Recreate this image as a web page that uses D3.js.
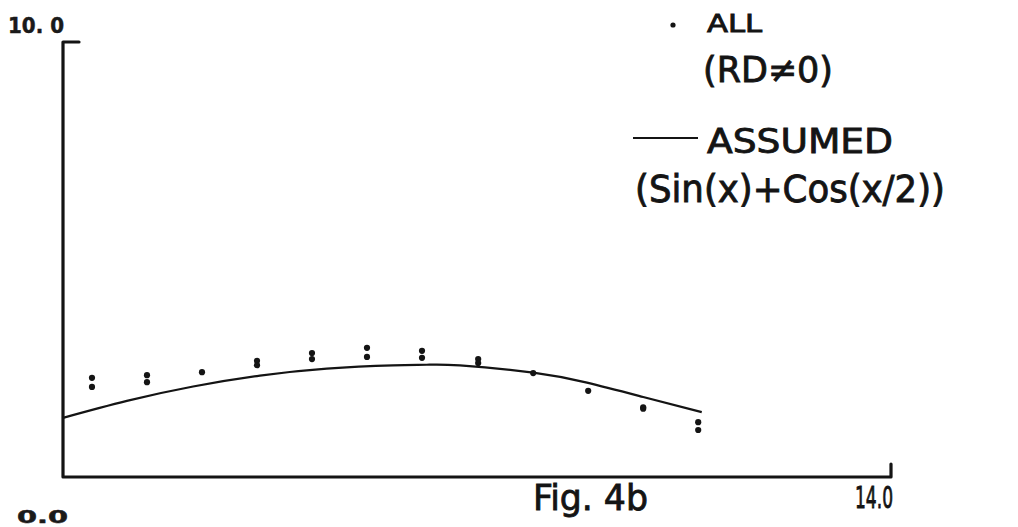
<!DOCTYPE html>
<html>
<head>
<meta charset="utf-8">
<script src="https://cdn.jsdelivr.net/npm/d3@7"></script>
<style>
  html, body { margin: 0; padding: 0; background: #fff; }
  svg { display: block; }
  .din { font-family: "DejaVu Sans Condensed", "DejaVu Sans", sans-serif; font-stretch: condensed; fill: #141414; stroke: #141414; stroke-width: 0.8; }
  .num { font-family: "DejaVu Sans", sans-serif; font-weight: bold; fill: #1a1a1a; stroke: #1a1a1a; stroke-width: 0.5; }
</style>
</head>
<body>
<svg id="chart" width="1018" height="527"></svg>
<script>
// Measured series "ALL (RD≠0)": x positions and the two readings at each x
const pointX   = [0.49, 1.42, 2.35, 3.28, 4.21, 5.14, 6.07, 7.02, 7.95, 8.88, 9.81, 10.74];
const pointYa  = [2.28, 2.34, 2.41, 2.67, 2.85, 2.97, 2.90, 2.71, 2.39, 1.98, 1.60, 1.26];
const pointYb  = [2.07, 2.18, 2.41, 2.57, 2.71, 2.76, 2.74, 2.62, 2.39, 1.98, 1.57, 1.08];

// Assumed curve "Sin(x)+Cos(x/2)" as plotted
const curveX = [0.0, 1.08, 2.20, 3.33, 4.46, 5.58, 6.15, 6.71, 7.95, 8.86, 9.81, 10.80];
const curveY = [1.36, 1.75, 2.08, 2.33, 2.49, 2.565, 2.58, 2.565, 2.40, 2.17, 1.84, 1.49];

// Axis labels
const xDomain = [0, 14];
const yDomain = [0, 10];
const yTopLabel = "10. 0";
const yBottomLabel = "0.0";
const xEndLabel = "14.0";
const figLabel = "Fig. 4b";

const svg = d3.select("#chart");
const ink = "#141414";

const x = d3.scaleLinear().domain(xDomain).range([63, 891]);
const y = d3.scaleLinear().domain(yDomain).range([477, 42]);

// Axes: left vertical line with a short top tick, bottom line with a short end tick
const axisPath = d3.path();
axisPath.moveTo(x(0) + 16, y(10));
axisPath.lineTo(x(0), y(10));
axisPath.lineTo(x(0), y(0));
axisPath.lineTo(x(14), y(0));
axisPath.lineTo(x(14), y(0) - 13);
svg.append("path")
  .attr("d", axisPath.toString())
  .attr("fill", "none")
  .attr("stroke", ink)
  .attr("stroke-width", 3.2)
  .attr("stroke-linejoin", "round")
  .attr("stroke-linecap", "round");

// Assumed curve
const curveData = curveX.map((v, i) => [v, curveY[i]]);
svg.append("path")
  .datum(curveData)
  .attr("d", d3.line().x(d => x(d[0])).y(d => y(d[1])).curve(d3.curveNatural))
  .attr("fill", "none")
  .attr("stroke", ink)
  .attr("stroke-width", 2.2);

// Measured points
const pts = [];
pointX.forEach((v, i) => {
  pts.push([v, pointYa[i]]);
  if (pointYb[i] !== pointYa[i]) pts.push([v, pointYb[i]]);
});
svg.append("g").selectAll("circle")
  .data(pts)
  .join("circle")
  .attr("cx", d => x(d[0]))
  .attr("cy", d => y(d[1]))
  .attr("r", 3.1)
  .attr("fill", ink);

// Axis labels
svg.append("text").attr("class", "num")
  .attr("x", 8).attr("y", 33)
  .attr("font-size", 22)
  .attr("textLength", 56).attr("lengthAdjust", "spacingAndGlyphs")
  .text(yTopLabel);
svg.append("text").attr("class", "num")
  .attr("x", 17).attr("y", 523)
  .attr("font-size", 18)
  .attr("textLength", 51).attr("lengthAdjust", "spacingAndGlyphs")
  .text(yBottomLabel);
svg.append("text").attr("class", "din")
  .attr("x", 855).attr("y", 508)
  .attr("font-size", 30)
  .attr("textLength", 38).attr("lengthAdjust", "spacingAndGlyphs")
  .text(xEndLabel);
svg.append("text").attr("class", "din")
  .attr("x", 533).attr("y", 510)
  .attr("font-size", 36)
  .attr("textLength", 115).attr("lengthAdjust", "spacingAndGlyphs")
  .text(figLabel);

// Legend
svg.append("circle").attr("cx", 673).attr("cy", 25).attr("r", 2.6).attr("fill", ink);
svg.append("text").attr("class", "din")
  .attr("x", 707).attr("y", 32)
  .attr("font-size", 24)
  .attr("textLength", 55).attr("lengthAdjust", "spacingAndGlyphs")
  .text("ALL");
svg.append("text").attr("class", "din")
  .attr("x", 703).attr("y", 82)
  .attr("font-size", 36)
  .attr("textLength", 130).attr("lengthAdjust", "spacingAndGlyphs")
  .text("(RD≠0)");
svg.append("line")
  .attr("x1", 633).attr("x2", 698).attr("y1", 138).attr("y2", 138)
  .attr("stroke", ink).attr("stroke-width", 2);
svg.append("text").attr("class", "din")
  .attr("x", 707).attr("y", 153)
  .attr("font-size", 34)
  .attr("textLength", 186).attr("lengthAdjust", "spacingAndGlyphs")
  .text("ASSUMED");
svg.append("text").attr("class", "din")
  .attr("x", 635).attr("y", 202)
  .attr("font-size", 37)
  .attr("textLength", 310).attr("lengthAdjust", "spacingAndGlyphs")
  .text("(Sin(x)+Cos(x/2))");
</script>
</body>
</html>
